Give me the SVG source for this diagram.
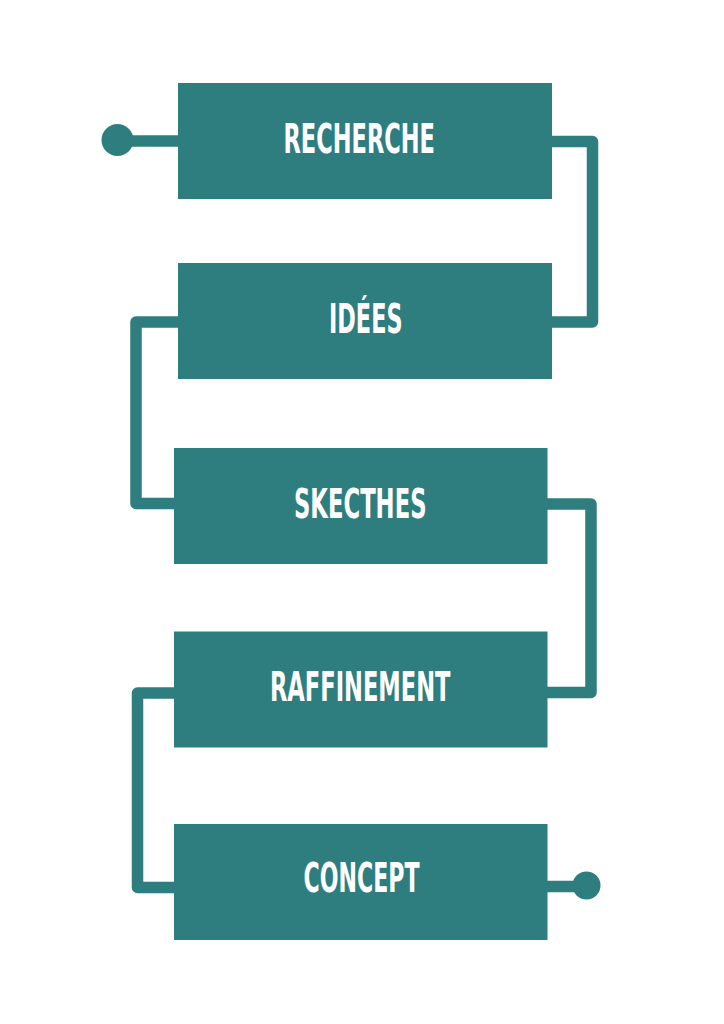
<svg xmlns="http://www.w3.org/2000/svg" width="724" height="1024" viewBox="0 0 724 1024">
<style>
.box{fill:#2f7e7f}
.lbl{fill:#ffffff;font-family:"Liberation Sans Narrow","DejaVu Sans Condensed","Liberation Sans",sans-serif;font-weight:bold;font-size:40px}
.con{fill:none;stroke:#2f7e7f;stroke-width:11.5;stroke-linejoin:round;stroke-linecap:butt}
.dot{fill:#2f7e7f}
</style>
<rect width="724" height="1024" fill="#ffffff"/>
<g id="connectors">
<circle class="dot" cx="117.5" cy="140" r="16"/>
<path class="con" d="M120 141 H180"/>
<path class="con" d="M548 141.5 H592.5 V322 H548"/>
<path class="con" d="M182 322 H136 V503.5 H178"/>
<path class="con" d="M544 504 H591 V692.5 H544"/>
<path class="con" d="M178 693 H137.5 V887.5 H178"/>
<path class="con" d="M544 886.5 H586"/>
<circle class="dot" cx="586.5" cy="885.5" r="14"/>
</g>
<g id="recherche">
<rect class="box" x="178" y="83" width="374" height="116"/>
<text class="lbl" x="283.5" y="152.7" textLength="151.5" lengthAdjust="spacingAndGlyphs">RECHERCHE</text>
</g>
<g id="idees">
<rect class="box" x="178" y="263" width="374" height="116"/>
<text class="lbl" x="329" y="332.7" textLength="73.5" lengthAdjust="spacingAndGlyphs">IDÉES</text>
</g>
<g id="skecthes">
<rect class="box" x="174" y="448" width="373.5" height="116"/>
<text class="lbl" x="294" y="518.3" textLength="132.5" lengthAdjust="spacingAndGlyphs">SKECTHES</text>
</g>
<g id="raffinement">
<rect class="box" x="174" y="631.5" width="373.5" height="116"/>
<text class="lbl" x="270" y="701" textLength="180.5" lengthAdjust="spacingAndGlyphs">RAFFINEMENT</text>
</g>
<g id="concept">
<rect class="box" x="174" y="824" width="373.5" height="116"/>
<text class="lbl" x="303.5" y="891.7" textLength="116" lengthAdjust="spacingAndGlyphs">CONCEPT</text>
</g>
</svg>
